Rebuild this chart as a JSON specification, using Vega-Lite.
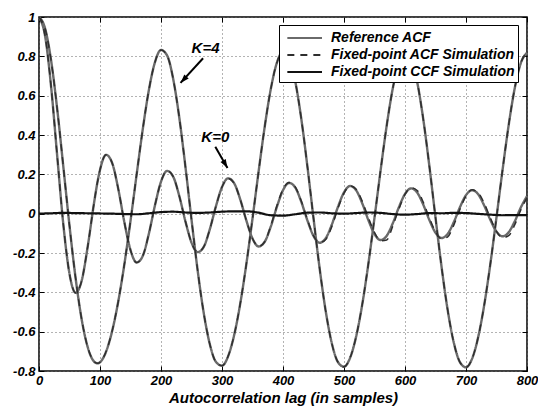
{
  "$schema": "https://vega.github.io/schema/vega-lite/v6.json",
  "width": 488,
  "height": 354,
  "autosize": "none",
  "padding": {"left": 39, "top": 17, "right": 11, "bottom": 36},
  "background": "white",
  "config": {
    "font": "Liberation Sans",
    "view": {"stroke": "#000", "strokeWidth": 1.5},
    "legend": {
      "orient": "none",
      "legendX": 240,
      "legendY": 8,
      "direction": "vertical",
      "strokeColor": "#000",
      "fillColor": "#fff",
      "padding": 3,
      "symbolType": "M-1,0H3",
      "symbolSize": 300,
      "symbolStrokeWidth": 2,
      "symbolOffset": 4,
      "labelFontSize": 14,
      "labelFontWeight": "bold",
      "labelFontStyle": "italic",
      "labelColor": "#000",
      "labelLimit": 400,
      "labelOffset": 25,
      "rowPadding": 0
    }
  },
  "datasets": {
    "acf": [
      {"l":0,"r0":1,"r4":1,"s0":1,"s4":1},
      {"l":10,"r0":0.9032,"r4":0.9415,"s0":0.9032,"s4":0.9415},
      {"l":20,"r0":0.6408,"r4":0.7754,"s0":0.6408,"s4":0.7754},
      {"l":30,"r0":0.2877,"r4":0.5277,"s0":0.2877,"s4":0.5277},
      {"l":40,"r0":-0.0583,"r4":0.2355,"s0":-0.0583,"s4":0.2355},
      {"l":50,"r0":-0.306,"r4":-0.0612,"s0":-0.306,"s4":-0.0612},
      {"l":60,"r0":-0.4025,"r4":-0.3277,"s0":-0.4025,"s4":-0.3277},
      {"l":70,"r0":-0.3402,"r4":-0.5382,"s0":-0.3402,"s4":-0.5382},
      {"l":80,"r0":-0.1645,"r4":-0.6801,"s0":-0.1645,"s4":-0.6801},
      {"l":90,"r0":0.0496,"r4":-0.751,"s0":0.0496,"s4":-0.751},
      {"l":96,"r0":0.1628,"r4":-0.7611,"s0":0.1628,"s4":-0.7611},
      {"l":100,"r0":0.2225,"r4":-0.7555,"s0":0.2225,"s4":-0.7555},
      {"l":110,"r0":0.299,"r4":-0.7011,"s0":0.299,"s4":-0.7011},
      {"l":120,"r0":0.257,"r4":-0.5958,"s0":0.257,"s4":-0.5958},
      {"l":130,"r0":0.1247,"r4":-0.4453,"s0":0.1247,"s4":-0.4453},
      {"l":140,"r0":-0.0443,"r4":-0.2561,"s0":-0.0443,"s4":-0.2561},
      {"l":150,"r0":-0.1849,"r4":-0.037,"s0":-0.1849,"s4":-0.037},
      {"l":160,"r0":-0.2485,"r4":0.1975,"s0":-0.2485,"s4":0.1975},
      {"l":170,"r0":-0.2154,"r4":0.4271,"s0":-0.2154,"s4":0.4271},
      {"l":180,"r0":-0.1036,"r4":0.6265,"s0":-0.1036,"s4":0.6265},
      {"l":190,"r0":0.0409,"r4":0.7691,"s0":0.0409,"s4":0.7691},
      {"l":200,"r0":0.1627,"r4":0.8325,"s0":0.1627,"s4":0.8325},
      {"l":210,"r0":0.2176,"r4":0.8044,"s0":0.2176,"s4":0.8044},
      {"l":220,"r0":0.188,"r4":0.6848,"s0":0.188,"s4":0.6848},
      {"l":230,"r0":0.0894,"r4":0.4881,"s0":0.0894,"s4":0.4881},
      {"l":240,"r0":-0.0386,"r4":0.2395,"s0":-0.0386,"s4":0.2395},
      {"l":250,"r0":-0.1467,"r4":-0.0293,"s0":-0.1467,"s4":-0.0293},
      {"l":260,"r0":-0.1956,"r4":-0.2863,"s0":-0.1956,"s4":-0.2863},
      {"l":270,"r0":-0.1689,"r4":-0.504,"s0":-0.1689,"s4":-0.504},
      {"l":280,"r0":-0.0795,"r4":-0.6631,"s0":-0.0795,"s4":-0.6631},
      {"l":290,"r0":0.0369,"r4":-0.7535,"s0":0.0369,"s4":-0.7535},
      {"l":300,"r0":0.1354,"r4":-0.7729,"s0":0.1354,"s4":-0.7729},
      {"l":310,"r0":0.1795,"r4":-0.725,"s0":0.1795,"s4":-0.725},
      {"l":320,"r0":0.1542,"r4":-0.6164,"s0":0.1542,"s4":-0.6164},
      {"l":330,"r0":0.0715,"r4":-0.4559,"s0":0.0715,"s4":-0.4559},
      {"l":340,"r0":-0.0357,"r4":-0.2543,"s0":-0.0357,"s4":-0.2543},
      {"l":350,"r0":-0.1262,"r4":-0.0252,"s0":-0.1262,"s4":-0.0252},
      {"l":360,"r0":-0.1666,"r4":0.2139,"s0":-0.1666,"s4":0.2139},
      {"l":370,"r0":-0.1428,"r4":0.4416,"s0":-0.1428,"s4":0.4416},
      {"l":380,"r0":-0.0654,"r4":0.6341,"s0":-0.062,"s4":0.6341},
      {"l":390,"r0":0.0348,"r4":0.7679,"s0":0.04,"s4":0.7679},
      {"l":400,"r0":0.1192,"r4":0.8238,"s0":0.124,"s4":0.8238},
      {"l":410,"r0":0.1563,"r4":0.7922,"s0":0.158,"s4":0.7922},
      {"l":420,"r0":0.1332,"r4":0.6738,"s0":0.136,"s4":0.6738},
      {"l":430,"r0":0.0601,"r4":0.4822,"s0":0.064,"s4":0.4822},
      {"l":440,"r0":-0.0341,"r4":0.2404,"s0":-0.03,"s4":0.2404},
      {"l":450,"r0":-0.1131,"r4":-0.0226,"s0":-0.112,"s4":-0.0226},
      {"l":460,"r0":-0.1476,"r4":-0.2767,"s0":-0.147,"s4":-0.2767},
      {"l":470,"r0":-0.1253,"r4":-0.4953,"s0":-0.131,"s4":-0.4953},
      {"l":480,"r0":-0.0558,"r4":-0.6584,"s0":-0.066,"s4":-0.6584},
      {"l":490,"r0":0.0335,"r4":-0.7542,"s0":0.026,"s4":-0.7542},
      {"l":500,"r0":0.1083,"r4":-0.7783,"s0":0.104,"s4":-0.7783},
      {"l":510,"r0":0.1404,"r4":-0.7328,"s0":0.141,"s4":-0.7328},
      {"l":520,"r0":0.1185,"r4":-0.6235,"s0":0.124,"s4":-0.6235},
      {"l":530,"r0":0.0519,"r4":-0.4598,"s0":0.062,"s4":-0.4598},
      {"l":540,"r0":-0.0331,"r4":-0.2538,"s0":-0.021,"s4":-0.2538},
      {"l":550,"r0":-0.1038,"r4":-0.0208,"s0":-0.095,"s4":-0.0208},
      {"l":560,"r0":-0.134,"r4":0.2204,"s0":-0.138,"s4":0.2204},
      {"l":570,"r0":-0.1126,"r4":0.4477,"s0":-0.134,"s4":0.4477},
      {"l":580,"r0":-0.0486,"r4":0.6375,"s0":-0.062,"s4":0.6375},
      {"l":590,"r0":0.0328,"r4":0.7675,"s0":0.024,"s4":0.7675},
      {"l":600,"r0":0.1003,"r4":0.8201,"s0":0.098,"s4":0.8201},
      {"l":610,"r0":0.1285,"r4":0.7866,"s0":0.132,"s4":0.7866},
      {"l":620,"r0":0.1074,"r4":0.6687,"s0":0.118,"s4":0.6687},
      {"l":630,"r0":0.0455,"r4":0.4793,"s0":0.058,"s4":0.4793},
      {"l":640,"r0":-0.0325,"r4":0.2407,"s0":-0.022,"s4":0.2407},
      {"l":650,"r0":-0.0969,"r4":-0.0194,"s0":-0.092,"s4":-0.0194},
      {"l":660,"r0":-0.1235,"r4":-0.2719,"s0":-0.128,"s4":-0.2719},
      {"l":670,"r0":-0.1027,"r4":-0.4907,"s0":-0.118,"s4":-0.4907},
      {"l":680,"r0":-0.0429,"r4":-0.6558,"s0":-0.058,"s4":-0.6558},
      {"l":690,"r0":0.0323,"r4":-0.7544,"s0":0.022,"s4":-0.7544},
      {"l":700,"r0":0.0942,"r4":-0.7812,"s0":0.09,"s4":-0.7812},
      {"l":710,"r0":0.1192,"r4":-0.7371,"s0":0.121,"s4":-0.7371},
      {"l":720,"r0":0.0985,"r4":-0.6275,"s0":0.106,"s4":-0.6275},
      {"l":730,"r0":0.0404,"r4":-0.4621,"s0":0.052,"s4":-0.4621},
      {"l":740,"r0":-0.0322,"r4":-0.2536,"s0":-0.022,"s4":-0.2536},
      {"l":750,"r0":-0.0915,"r4":-0.0183,"s0":-0.09,"s4":-0.0183},
      {"l":760,"r0":-0.1152,"r4":0.2242,"s0":-0.122,"s4":0.2242},
      {"l":770,"r0":-0.0947,"r4":0.4513,"s0":-0.112,"s4":0.4513},
      {"l":780,"r0":-0.0383,"r4":0.6395,"s0":-0.056,"s4":0.6395},
      {"l":790,"r0":0.0321,"r4":0.7673,"s0":0.02,"s4":0.7673},
      {"l":800,"r0":0.0893,"r4":0.8179,"s0":0.082,"s4":0.8179}
    ],
    "ccf": [
      {"l":0,"c":0},{"l":20,"c":0.002},{"l":40,"c":0.004},{"l":60,"c":0.003},{"l":80,"c":0.002},
      {"l":100,"c":0.001},{"l":120,"c":0},{"l":140,"c":-0.002},{"l":160,"c":-0.003},{"l":180,"c":0.002},
      {"l":200,"c":0.008},{"l":220,"c":0.01},{"l":240,"c":0.006},{"l":260,"c":0.004},{"l":280,"c":0.006},
      {"l":300,"c":0.01},{"l":320,"c":0.012},{"l":340,"c":0.012},{"l":360,"c":0.005},{"l":380,"c":-0.008},
      {"l":400,"c":-0.01},{"l":420,"c":-0.003},{"l":440,"c":0.005},{"l":460,"c":0.006},{"l":480,"c":0.002},
      {"l":500,"c":0},{"l":520,"c":0.003},{"l":540,"c":0.006},{"l":560,"c":0.004},{"l":580,"c":-0.002},
      {"l":600,"c":-0.005},{"l":620,"c":-0.002},{"l":640,"c":0.003},{"l":660,"c":0.002},{"l":680,"c":0.004},
      {"l":700,"c":0.003},{"l":720,"c":-0.001},{"l":740,"c":-0.005},{"l":760,"c":-0.008},{"l":780,"c":-0.007},
      {"l":800,"c":-0.008}
    ],
    "labels": [
      {"t":"K=4","x":273,"y":0.84},
      {"t":"K=0","x":289,"y":0.39}
    ],
    "arrows": [
      {"a":"K=4","x":269,"y":0.79,"x2":232,"y2":0.665},
      {"a":"K=0","x":289,"y":0.34,"x2":309,"y2":0.232}
    ]
  },
  "layer": [
    {
      "data": {"name": "acf"},
      "transform": [{"fold": ["r0", "r4"], "as": ["k", "v"]}],
      "mark": {"type": "line", "interpolate": "monotone", "strokeWidth": 2.4},
      "encoding": {
        "x": {
          "field": "l", "type": "quantitative",
          "scale": {"domain": [0, 800], "nice": false, "zero": false},
          "axis": {
            "values": [0, 100, 200, 300, 400, 500, 600, 700, 800],
            "grid": true, "gridDash": [1, 3], "gridColor": "#666", "gridWidth": 1,
            "domain": false, "tickSize": -5, "tickColor": "#000", "labelPadding": 8,
            "labelFontSize": 13, "labelFontWeight": "bold", "labelFontStyle": "italic", "labelColor": "#000",
            "labelFlush": false,
            "title": "Autocorrelation lag (in samples)",
            "titleFontSize": 15, "titleFontWeight": "bold", "titleFontStyle": "italic", "titleColor": "#000",
            "titlePadding": 3
          }
        },
        "y": {
          "field": "v", "type": "quantitative",
          "scale": {"domain": [-0.8, 1], "nice": false, "zero": false},
          "axis": {
            "values": [-0.8, -0.6, -0.4, -0.2, 0, 0.2, 0.4, 0.6, 0.8, 1],
            "labelExpr": "datum.value == 0 ? '0' : datum.value == 1 ? '1' : replace(format(datum.value, '.1f'), '\u2212', '-')",
            "grid": true, "gridDash": [1, 3], "gridColor": "#666", "gridWidth": 1,
            "domain": false, "tickSize": -5, "tickColor": "#000", "labelPadding": 9,
            "labelFontSize": 13, "labelFontWeight": "bold", "labelFontStyle": "italic", "labelColor": "#000",
            "labelFlush": false,
            "title": null
          }
        },
        "detail": {"field": "k"},
        "color": {
          "datum": "Reference ACF", "type": "nominal",
          "scale": {"domain": ["Reference ACF", "Fixed-point ACF Simulation", "Fixed-point CCF Simulation"], "range": ["#6a6a6a", "#2e2e2e", "#111111"]},
          "legend": {"title": null}
        },
        "strokeDash": {
          "datum": "Reference ACF", "type": "nominal",
          "scale": {"domain": ["Reference ACF", "Fixed-point ACF Simulation", "Fixed-point CCF Simulation"], "range": [[1, 0], [7, 6], [1, 0]]},
          "legend": {"title": null}
        }
      }
    },
    {
      "data": {"name": "acf"},
      "transform": [{"fold": ["s0", "s4"], "as": ["k", "v"]}],
      "mark": {"type": "line", "interpolate": "monotone", "strokeWidth": 1.5},
      "encoding": {
        "x": {"field": "l", "type": "quantitative", "axis": null},
        "y": {"field": "v", "type": "quantitative", "axis": null},
        "detail": {"field": "k"},
        "color": {"datum": "Fixed-point ACF Simulation", "type": "nominal"},
        "strokeDash": {"datum": "Fixed-point ACF Simulation", "type": "nominal"}
      }
    },
    {
      "data": {"name": "ccf"},
      "mark": {"type": "line", "interpolate": "monotone", "strokeWidth": 2.2},
      "encoding": {
        "x": {"field": "l", "type": "quantitative",
          "axis": {"orient": "top", "labels": false, "title": null, "grid": false, "domain": false, "tickSize": -5, "tickColor": "#000", "values": [0, 100, 200, 300, 400, 500, 600, 700, 800]}},
        "y": {"field": "c", "type": "quantitative",
          "axis": {"orient": "right", "labels": false, "title": null, "grid": false, "domain": false, "tickSize": -5, "tickColor": "#000", "values": [-0.8, -0.6, -0.4, -0.2, 0, 0.2, 0.4, 0.6, 0.8, 1]}},
        "color": {"datum": "Fixed-point CCF Simulation", "type": "nominal"},
        "strokeDash": {"datum": "Fixed-point CCF Simulation", "type": "nominal"}
      }
    },
    {
      "data": {"name": "arrows"},
      "mark": {"type": "rule", "color": "#000", "strokeWidth": 2},
      "encoding": {
        "x": {"field": "x", "type": "quantitative", "axis": null},
        "y": {"field": "y", "type": "quantitative", "axis": null},
        "x2": {"field": "x2"},
        "y2": {"field": "y2"}
      }
    },
    {
      "data": {"name": "arrows"},
      "transform": [{"filter": "datum.a == 'K=4'"}],
      "mark": {"type": "point", "shape": "M0,0L-0.75,2.2L0.75,2.2Z", "filled": true, "color": "#000", "opacity": 1, "size": 64, "angle": 222.6},
      "encoding": {
        "x": {"field": "x2", "type": "quantitative", "axis": null},
        "y": {"field": "y2", "type": "quantitative", "axis": null}
      }
    },
    {
      "data": {"name": "arrows"},
      "transform": [{"filter": "datum.a == 'K=0'"}],
      "mark": {"type": "point", "shape": "M0,0L-0.75,2.2L0.75,2.2Z", "filled": true, "color": "#000", "opacity": 1, "size": 64, "angle": 150.3},
      "encoding": {
        "x": {"field": "x2", "type": "quantitative", "axis": null},
        "y": {"field": "y2", "type": "quantitative", "axis": null}
      }
    },
    {
      "data": {"name": "labels"},
      "mark": {"type": "text", "fontSize": 15, "fontWeight": "bold", "fontStyle": "italic", "color": "#000", "align": "center", "baseline": "middle"},
      "encoding": {
        "x": {"field": "x", "type": "quantitative", "axis": null},
        "y": {"field": "y", "type": "quantitative", "axis": null},
        "text": {"field": "t"}
      }
    }
  ],
  "resolve": {"axis": {"x": "independent", "y": "independent"}}
}
